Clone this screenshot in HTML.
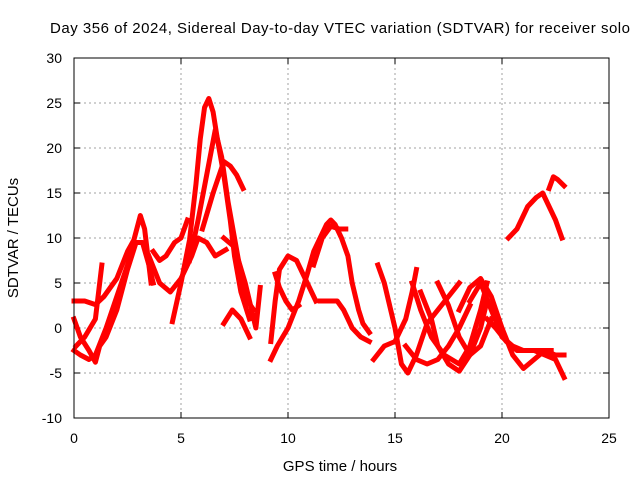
<!DOCTYPE html>
<html><head><meta charset="utf-8"><style>
body{margin:0;background:#fff}
svg{display:block;font-family:"Liberation Sans",sans-serif}
</style></head><body>
<svg id="chart" width="640" height="480">
<text x="50" y="33" textLength="580" lengthAdjust="spacing" font-size="15">Day 356 of 2024, Sidereal Day-to-day VTEC variation (SDTVAR) for receiver solo</text>
<text x="0" y="0" transform="translate(18,238) rotate(-90)" text-anchor="middle" font-size="15">SDTVAR / TECUs</text>
<text x="340" y="471" text-anchor="middle" font-size="15">GPS time / hours</text>
<g id="grid"></g><g id="ticks"></g><g id="marks"></g>
<rect x="74" y="58" width="535" height="360" fill="none" stroke="#000" stroke-width="1"/>
</svg>
<script>
const xTicks=[0,5,10,15,20,25];
const yTicks=[-10,-5,0,5,10,15,20,25,30];
const tracks=[
[[0,3],[0.5,3],[1,2.6],[1.4,3.5],[2,5.5],[2.5,8.5],[2.8,9.8],[3.1,12.5],[3.3,11],[3.6,5]],
[[0,-2.5],[0.3,-3],[0.7,-3.5],[1,-3],[1.5,0],[2,3.5],[2.5,7],[2.8,9.5],[3.2,9.5],[3.5,7],[3.7,5]],
[[0,1],[0.3,-1],[0.7,-2.5],[1,-3.8],[1.2,-2],[1.5,-1],[2,2],[2.5,6.5],[2.9,9.5]],
[[0.1,-2],[0.5,-1],[1,1],[1.3,7]],
[[3.7,8.5],[4,7.5],[4.3,8],[4.7,9.5],[5,10],[5.3,12]],
[[3.5,8],[4,5],[4.5,4],[5,5.5],[5.5,8],[5.8,10],[6.2,9.5],[6.6,8],[7.1,8.7]],
[[4.6,0.7],[5,5],[5.4,9.8],[5.7,16],[5.9,21],[6.1,24.5],[6.3,25.5],[6.5,24],[6.7,21],[7,17],[7.3,12],[7.5,8],[7.8,4],[8,2.5],[8.2,1]],
[[5.4,7.5],[5.8,12],[6.2,17],[6.6,22],[6.9,19],[7.2,14],[7.5,10],[7.8,6],[8.1,3],[8.4,2]],
[[6,11],[6.5,15],[7,18.5],[7.3,18],[7.6,17],[7.9,15.5]],
[[7,10],[7.5,9],[8,5],[8.3,2],[8.5,0],[8.7,4.5]],
[[7,0.5],[7.4,2],[7.8,1],[8.2,-1]],
[[9.2,-1.5],[9.4,3],[9.6,6.5],[10,8],[10.4,7.5],[10.7,6],[11,4.5],[11.3,3]],
[[9.2,-3.5],[9.5,-2],[10,0],[10.5,3],[10.9,6],[11.2,8.5],[11.5,10],[11.8,11.5],[12,12],[12.2,11.5],[12.5,10],[12.8,8],[13,5],[13.3,2],[13.5,0.5],[13.8,-0.5]],
[[9.4,6],[9.6,4.5],[9.9,3],[10.2,2],[10.5,2.5]],
[[11.2,7],[11.6,10],[12,11.3],[12.4,11],[12.7,11]],
[[11.5,3],[12,3],[12.3,3],[12.6,2],[13,0],[13.4,-1],[13.8,-1.5]],
[[14,-3.5],[14.5,-2],[15,-1.5],[15.5,1],[15.8,4],[16,6.5]],
[[14.2,7],[14.5,5],[15,0],[15.3,-4],[15.6,-5],[16,-3],[16.5,0.5],[17,2],[17.5,3.5],[18,5]],
[[15.8,5],[16.2,2],[16.7,-1],[17.3,-3],[18,-4],[18.5,-2],[19,2],[19.3,5]],
[[16.2,4],[16.7,1],[17,-2],[17.5,-4],[18,-4.8],[18.5,-3],[19,0],[19.3,3]],
[[17,5],[17.5,2.5],[18,-1],[18.5,-3],[19,-2],[19.5,1]],
[[18,2],[18.5,4.5],[19,5.5],[19.5,3.5],[20,0],[20.5,-3],[21,-4.5],[21.5,-3.5],[22,-2.5],[22.5,-3],[22.9,-3]],
[[18.5,3],[19,5],[19.5,2],[20,-1],[20.5,-2],[21,-2.5],[21.5,-2.5],[22,-3],[22.5,-3.5],[22.9,-5.5]],
[[19.3,1],[19.7,0],[20.2,-1.5],[20.7,-2.5],[21.3,-2.5],[21.8,-2.5],[22.3,-2.5]],
[[20.3,10],[20.7,11],[21.2,13.5],[21.6,14.5],[21.9,15],[22.2,13.5],[22.5,12],[22.8,10]],
[[22.2,15.5],[22.4,16.8],[22.6,16.5],[22.9,15.8]],
[[15.5,-2],[16,-3.5],[16.5,-4],[17,-3.5],[17.5,-2],[18,0],[18.5,2.5]]
];
const X=h=>74+h*535/25, Y=v=>418-(v+10)*9;
const NS="http://www.w3.org/2000/svg";
const grid=document.getElementById('grid'),ticks=document.getElementById('ticks'),marks=document.getElementById('marks');
function mk(tag,a,p){const e=document.createElementNS(NS,tag);for(const k in a)e.setAttribute(k,a[k]);p.appendChild(e);return e;}
xTicks.forEach(t=>{const x=X(t);
 if(t>0&&t<25){const g=mk('line',{x1:x,y1:58,x2:x,y2:418,stroke:'#a0a0a0','stroke-dasharray':'2,3'},grid);
 
 }
 mk('line',{x1:x,y1:418,x2:x,y2:412,stroke:'#000'},ticks);mk('line',{x1:x,y1:58,x2:x,y2:64,stroke:'#000'},ticks);
 const l=mk('text',{x:x,y:443,'text-anchor':'middle','font-size':14},ticks);l.textContent=t;
 
 });
yTicks.forEach(t=>{const y=Y(t);
 if(t>-10&&t<30){const g=mk('line',{x1:74,y1:y,x2:609,y2:y,stroke:'#a0a0a0','stroke-dasharray':'2,3'},grid);
 
 }
 mk('line',{x1:74,y1:y,x2:80,y2:y,stroke:'#000'},ticks);mk('line',{x1:609,y1:y,x2:603,y2:y,stroke:'#000'},ticks);
 const l=mk('text',{x:62,y:y+5,'text-anchor':'end','font-size':14},ticks);l.textContent=t;
 
 });
tracks.forEach((tr,i)=>{
 const p=mk('polyline',{points:tr.map(d=>X(d[0])+','+Y(d[1])).join(' '),fill:'none',stroke:'#f00','stroke-width':5,'stroke-linejoin':'round','stroke-linecap':'square'},marks);
 
 
});
</script>
</body></html>
